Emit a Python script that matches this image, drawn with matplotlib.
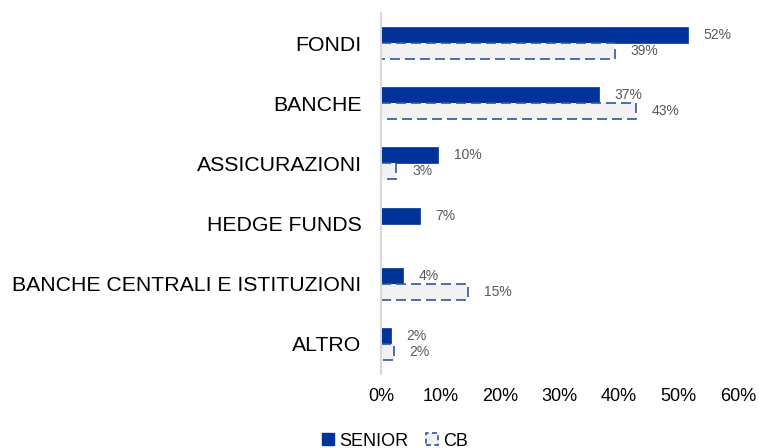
import numpy as np
import matplotlib.pyplot as plt
from matplotlib.patches import Patch

plt.rcParams['font.family'] = ['Liberation Sans', 'DejaVu Sans']

categorie = ['FONDI', 'BANCHE', 'ASSICURAZIONI', 'HEDGE FUNDS',
             'BANCHE CENTRALI E ISTITUZIONI', 'ALTRO']
senior = [51.6, 36.6, 9.6, 6.6, 3.7, 1.7]
cb = [39.4, 42.9, 2.6, 0.0, 14.7, 2.2]
xticks = [0, 10, 20, 30, 40, 50, 60]

blu = '#003399'
blu_bordo = '#2F55A4'
grigio = '#F2F2F2'

fig = plt.figure(figsize=(7.59, 4.48), dpi=100)
ax = fig.add_axes([381/759, 1-374/448, (738-381)/759, (374-13)/448])

y = np.arange(len(categorie))
h = 0.265
ax.barh(y - h/2, senior, height=h, color=blu, edgecolor=blu, linewidth=0.5, zorder=2)
for yi, v in zip(y, cb):
    if v > 0:
        ax.barh(yi + h/2, v, height=h, color=grigio, edgecolor=blu_bordo,
                linewidth=1.2, linestyle=(0, (6, 3)), zorder=3)

# etichette dati
for yi, v in zip(y, senior):
    ax.text(v + 2.6, yi - h/2, '%.0f%%' % v, va='center', ha='left',
            fontsize=10, color='#595959', zorder=4)
for yi, v in zip(y, cb):
    if v > 0:
        ax.text(v + 2.6, yi + h/2, '%.0f%%' % v, va='center', ha='left',
                fontsize=10, color='#595959', zorder=4)

ax.set_xlim(0, 60)
ax.set_ylim(len(categorie) - 0.5, -0.5)
ax.set_yticks(y)
ax.set_yticklabels(categorie, fontsize=15.3)
ax.set_xticks(xticks)
ax.set_xticklabels(['%d%%' % t for t in xticks], fontsize=13)
ax.tick_params(axis='y', length=0, pad=14)
ax.tick_params(axis='x', length=0, pad=10)
for s in ['top', 'right', 'bottom']:
    ax.spines[s].set_visible(False)
ax.spines['left'].set_color('#D9D9D9')
ax.spines['left'].set_linewidth(1.5)
ax.spines['left'].set_zorder(5)

handles = [Patch(facecolor=blu, edgecolor=blu, label='SENIOR'),
           Patch(facecolor=grigio, edgecolor=blu_bordo, linestyle=(0, (3, 2)),
                 linewidth=1.2, label='CB')]
fig.legend(handles=handles, loc='center', bbox_to_anchor=(395/759, 1-441/448),
           ncol=2, frameon=False, fontsize=13, handlelength=0.65, handleheight=0.65,
           handletextpad=0.3, columnspacing=1.0)

fig.savefig('out.png', dpi=100)
